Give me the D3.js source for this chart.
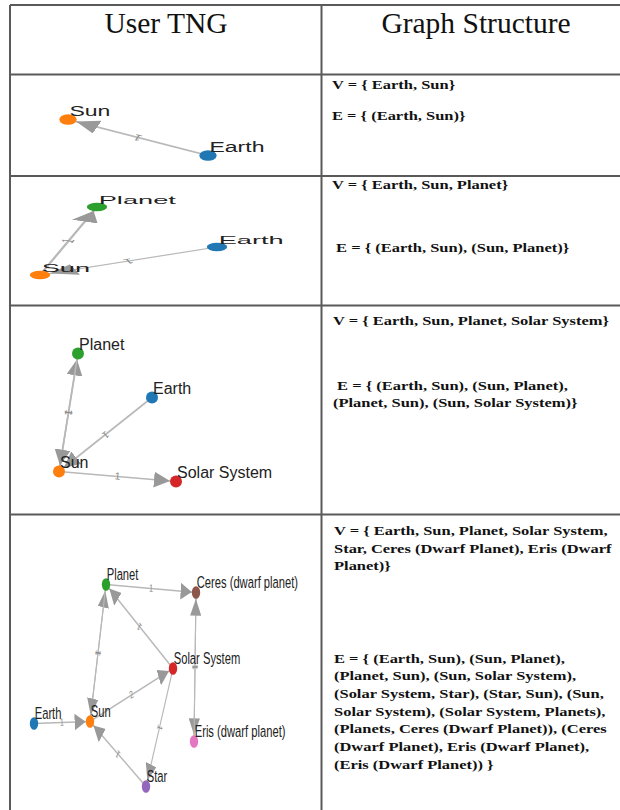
<!DOCTYPE html>
<html><head><meta charset="utf-8">
<script src="https://cdn.jsdelivr.net/npm/d3@7"></script>
<style>body{margin:0;background:#fff}svg{display:block}</style>
</head><body>
<svg id="c" width="620" height="810"></svg>
<script>
// ---------- data ----------
const headers = ["User TNG", "Graph Structure"];
const colorIndex = {"Earth":0,"Sun":1,"Planet":2,"Solar System":3,"Star":4,"Ceres (dwarf planet)":5,"Eris (dwarf planet)":6};

// node layout coordinates (cell-local units)
const nodes1 = [{id:"Sun",x:58,y:45},{id:"Earth",x:198,y:81}];
const links1 = [{s:"Earth",t:"Sun",w:1}];

const nodes2 = [{id:"Planet",x:87,y:31},{id:"Earth",x:207,y:71},{id:"Sun",x:30,y:99}];
const links2 = [{s:"Earth",t:"Sun",w:1},{s:"Sun",t:"Planet",w:1}];

const nodes3 = [{id:"Planet",x:68,y:48},{id:"Earth",x:142,y:92},{id:"Sun",x:49,y:166},{id:"Solar System",x:166,y:176}];
const links3 = [{s:"Earth",t:"Sun",w:1},{s:"Sun",t:"Planet",w:1},{s:"Planet",t:"Sun",w:1},{s:"Sun",t:"Solar System",w:1}];

const nodes4 = [{id:"Planet",x:96,y:70},{id:"Ceres (dwarf planet)",x:186,y:78},{id:"Solar System",x:163,y:154},
  {id:"Earth",x:24,y:209},{id:"Sun",x:80,y:207},{id:"Eris (dwarf planet)",x:184,y:227},{id:"Star",x:136,y:272}];
const links4 = [{s:"Earth",t:"Sun",w:1},{s:"Sun",t:"Planet",w:1},{s:"Planet",t:"Sun",w:1},{s:"Sun",t:"Solar System",w:2},
  {s:"Solar System",t:"Star",w:1},{s:"Star",t:"Sun",w:1},{s:"Solar System",t:"Planet",w:1},
  {s:"Planet",t:"Ceres (dwarf planet)",w:1},{s:"Ceres (dwarf planet)",t:"Eris (dwarf planet)",w:1},{s:"Eris (dwarf planet)",t:"Ceres (dwarf planet)",w:1}];

const vText1 = ["V = { Earth, Sun}"];
const eText1 = ["E = { (Earth, Sun)}"];
const vText2 = ["V = { Earth, Sun, Planet}"];
const eText2 = [" E = { (Earth, Sun), (Sun, Planet)}"];
const vText3 = ["V = { Earth, Sun, Planet, Solar System}"];
const eText3 = [" E = { (Earth, Sun), (Sun, Planet),", "(Planet, Sun), (Sun, Solar System)}"];
const vText4 = ["V = { Earth, Sun, Planet, Solar System,", "Star, Ceres (Dwarf Planet), Eris (Dwarf", "Planet)}"];
const eText4 = ["E = { (Earth, Sun), (Sun, Planet),", "(Planet, Sun), (Sun, Solar System),",
  "(Solar System, Star), (Star, Sun), (Sun,", "Solar System), (Solar System, Planets),",
  "(Planets, Ceres (Dwarf Planet)), (Ceres", "(Dwarf Planet), Eris (Dwarf Planet),", "(Eris (Dwarf Planet)) }"];

// ---------- layout ----------
const svg = d3.select("#c");
const colX = [10, 321.5, 632];
const rowY = [5, 74.5, 176, 305.5, 514.5, 812];
const lineColor = "#5a5a5a";
const color = d3.scaleOrdinal().domain(d3.range(10)).range(d3.schemeCategory10);

const panels = [
  {nodes:nodes1, links:links1, sx:1.44, sy:0.87, v:vText1, e:eText1, vy:[89], ey:[120], vx:332, ex:332},
  {nodes:nodes2, links:links2, sx:1.70, sy:0.70, v:vText2, e:eText2, vy:[188.5], ey:[252], vx:332, ex:332},
  {nodes:nodes3, links:links3, sx:1.0, sy:1.0, v:vText3, e:eText3, vy:[325], ey:[390, 406.5], vx:333, ex:333},
  {nodes:nodes4, links:links4, sx:0.70, sy:1.05, v:vText4, e:eText4, vy:[535.3,552.8,570.3], ey:[662.5,680.2,697.9,715.6,733.3,751,768.7], vx:334, ex:334}
];

// header
svg.selectAll("text.hdr").data(headers).join("text")
  .attr("class","hdr")
  .attr("x",(d,i)=> i===0 ? 166 : 476)
  .attr("y",33)
  .attr("text-anchor","middle")
  .attr("font-family","'Liberation Serif','Times New Roman',serif")
  .attr("font-size",29.5)
  .attr("fill","#111")
  .text(d=>d);

const defs = svg.append("defs");
const R = 6;

panels.forEach((p, pi) => {
  const top = rowY[pi+1], bottom = rowY[pi+2];
  const w = colX[1]-colX[0], h = bottom-top;
  const x = d3.scaleLinear().domain([0, w]).range([0, w/p.sx]);
  const y = d3.scaleLinear().domain([0, h]).range([0, h/p.sy]);
  const byId = new Map(p.nodes.map(n=>[n.id,n]));

  defs.append("marker")
    .attr("id","arr"+pi)
    .attr("viewBox","0 -5 10 10")
    .attr("refX", 13.8)
    .attr("refY", 0)
    .attr("markerUnits","userSpaceOnUse")
    .attr("markerWidth", 16)
    .attr("markerHeight", 16)
    .attr("orient","auto")
    .append("path").attr("d","M0,-5L10,0L0,5Z").attr("fill","#999");

  const g = svg.append("g").attr("transform",`translate(${colX[0]},${top}) scale(${p.sx},${p.sy})`);

  g.selectAll("line").data(p.links).join("line")
    .attr("x1",d=>x(byId.get(d.s).x)).attr("y1",d=>y(byId.get(d.s).y))
    .attr("x2",d=>x(byId.get(d.t).x)).attr("y2",d=>y(byId.get(d.t).y))
    .attr("stroke","#b8b8b8").attr("stroke-width",1.6)
    .attr("marker-end",`url(#arr${pi})`);

  g.selectAll("text.wl").data(p.links).join("text")
    .attr("class","wl")
    .attr("transform",d=>{
      const a=byId.get(d.s), b=byId.get(d.t);
      const mx=(x(a.x)+x(b.x))/2, my=(y(a.y)+y(b.y))/2;
      let ang=Math.atan2(y(b.y)-y(a.y), x(b.x)-x(a.x))*180/Math.PI;
      return `translate(${mx},${my}) rotate(${ang})`;
    })
    .attr("dy",3)
    .attr("text-anchor","middle")
    .attr("font-family","'Liberation Sans',Arial,sans-serif")
    .attr("font-size",10)
    .attr("fill","#8a8a8a")
    .text(d=>d.w);

  g.selectAll("circle").data(p.nodes).join("circle")
    .attr("cx",d=>x(d.x)).attr("cy",d=>y(d.y)).attr("r",R)
    .attr("fill",d=>color(colorIndex[d.id]));

  g.selectAll("text.nl").data(p.nodes).join("text")
    .attr("class","nl")
    .attr("x",d=>x(d.x)+1).attr("y",d=>y(d.y)-4)
    .attr("font-family","'Liberation Sans',Arial,sans-serif")
    .attr("font-size",16)
    .attr("fill","#222")
    .text(d=>d.id);

  // structure text
  const tg = svg.append("g");
  const addLines = (arr, ys, x0) => {
    tg.selectAll(null).data(arr).join("text")
      .attr("transform",(d,i)=>`translate(${x0},${ys[i]}) scale(1.03,0.82)`)
      .attr("font-family","'Liberation Serif','Times New Roman',serif")
      .attr("font-weight","bold")
      .attr("font-size",16)
      .attr("fill","#111")
      .attr("xml:space","preserve")
      .style("white-space","pre")
      .text(d=>d);
  };
  addLines(p.v, p.vy, p.vx);
  addLines(p.e, p.ey, p.ex);
});

// table grid
const grid = svg.append("g").attr("stroke",lineColor).attr("stroke-width",2).attr("fill","none");
grid.selectAll("line.h").data(rowY.slice(0,5)).join("line")
  .attr("x1",colX[0]).attr("x2",colX[2]).attr("y1",d=>d).attr("y2",d=>d);
grid.selectAll("line.v").data(colX).join("line")
  .attr("x1",d=>d).attr("x2",d=>d).attr("y1",rowY[0]).attr("y2",rowY[5]);
</script>
</body></html>
